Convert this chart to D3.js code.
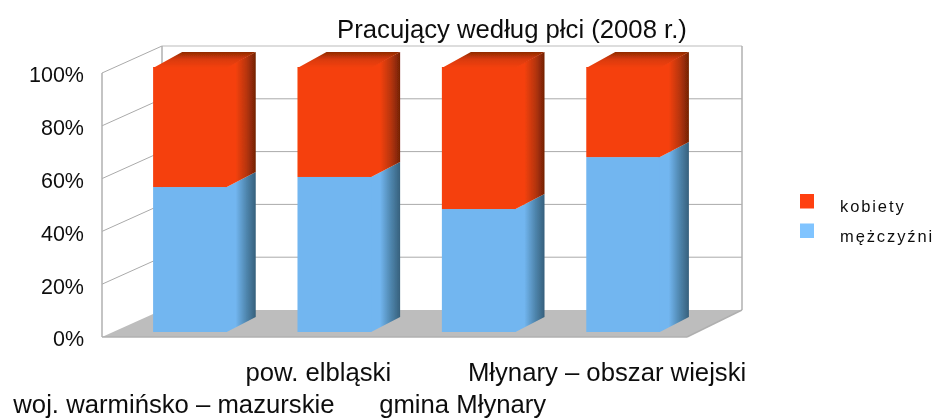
<!DOCTYPE html>
<html>
<head>
<meta charset="utf-8">
<script src="https://cdn.jsdelivr.net/npm/d3@7/dist/d3.min.js"></script>
<style>
  html, body { margin: 0; padding: 0; background: #fff; }
  svg { display: block; }
  text { font-family: "Liberation Sans", Arial, sans-serif; fill: #111; }
</style>
</head>
<body>
<div id="chart"></div>
<script>
const categories = ["woj. warmińsko – mazurskie", "pow. elbląski", "gmina Młynary", "Młynary – obszar wiejski"];
const mezczyzni = [54.7, 58.5, 46.4, 66];
const kobiety = [45.3, 41.5, 53.6, 34];
const yTicks = [0, 20, 40, 60, 80, 100];
const seriesNames = ["kobiety", "mężczyźni"];

const width = 938, height = 419;
const wall = { dx: 60, dy: -27 };   // glebokosc sciany wykresu
const depth = { dx: 29, dy: -15 };  // glebokosc slupka

const svg = d3.select("#chart").append("svg")
    .attr("width", width)
    .attr("height", height);

// skale
const y = d3.scaleLinear().domain([0, 100]).range([337, 73]);
const yBar = d3.scaleLinear().domain([0, 100]).range([332, 67]);
const x = d3.scaleBand().domain(categories).range([117, 696]).paddingInner(0.49).paddingOuter(0.25);
const xLabel = d3.scaleBand().domain(categories).range([101, 680]).paddingInner(0.49).paddingOuter(0.25);

// gradienty bocznych scian
const defs = svg.append("defs");
function sideGradient(id, from, mid, to) {
    const g = defs.append("linearGradient").attr("id", id);
    g.append("stop").attr("offset", "0%").attr("stop-color", from);
    g.append("stop").attr("offset", "35%").attr("stop-color", from);
    g.append("stop").attr("offset", "70%").attr("stop-color", mid);
    g.append("stop").attr("offset", "100%").attr("stop-color", to);
}
sideGradient("sideRed", "#f5410a", "#b83508", "#732206");
sideGradient("sideBlue", "#72b6f0", "#4f86ae", "#36607c");
defs.append("linearGradient").attr("id", "topRed")
    .attr("x1", "0%").attr("y1", "100%").attr("x2", "0%").attr("y2", "0%")
    .selectAll("stop").data([["0%", "#f5410a"], ["55%", "#d93a08"], ["100%", "#8f2a05"]]).enter().append("stop")
    .attr("offset", d => d[0]).attr("stop-color", d => d[1]);
defs.append("filter").attr("id", "soft")
    .append("feGaussianBlur").attr("stdDeviation", 0.6);
defs.append("filter").attr("id", "softText")
    .append("feGaussianBlur").attr("stdDeviation", 0.3);

const backGroup = svg.append("g").attr("filter", "url(#soft)");
const xRight = 687;   // prawy przedni rog podlogi
const xLeft = 102;

// podloga
backGroup.append("polygon")
    .attr("points", [
        [xLeft, y(0)],
        [xLeft + wall.dx, y(0) + wall.dy],
        [xRight + wall.dx - 5, y(0) + wall.dy],
        [xRight, y(0)]
    ].join(" "))
    .attr("fill", "#bdbdbd");

// linie siatki na tylnej scianie i lewej scianie
backGroup.selectAll("line.back")
    .data(yTicks.filter(d => d > 0))
    .enter().append("line")
    .attr("class", "back")
    .attr("x1", xLeft + wall.dx)
    .attr("x2", xRight + wall.dx - 5)
    .attr("y1", d => y(d) + wall.dy)
    .attr("y2", d => y(d) + wall.dy)
    .attr("stroke", d => d === 100 ? "#bbb" : "#aaa")
    .attr("stroke-width", 1);

backGroup.selectAll("line.side")
    .data(yTicks.filter(d => d > 0))
    .enter().append("line")
    .attr("class", "side")
    .attr("x1", xLeft)
    .attr("x2", xLeft + wall.dx)
    .attr("y1", d => y(d))
    .attr("y2", d => y(d) + wall.dy)
    .attr("stroke", "#aaa")
    .attr("stroke-width", 1);

// krawedzie scian
const edges = [
    [xLeft, y(100), xLeft, y(0)],
    [xLeft + wall.dx, y(100) + wall.dy, xLeft + wall.dx, y(0) + wall.dy],
    [xRight + wall.dx - 5, y(100) + wall.dy, xRight + wall.dx - 5, y(0) + wall.dy],
    [xLeft, y(0), xRight, y(0)],
    [xRight, y(0), xRight + wall.dx - 5, y(0) + wall.dy]
];
backGroup.selectAll("line.edge")
    .data(edges)
    .enter().append("line")
    .attr("class", "edge")
    .attr("x1", d => d[0]).attr("y1", d => d[1])
    .attr("x2", d => d[2]).attr("y2", d => d[3])
    .attr("stroke", "#b0b0b0")
    .attr("stroke-width", 1.5);

// slupki 3d
const bars = svg.append("g").attr("filter", "url(#soft)");

function drawSegment(cat, low, high, front, side) {
    const x0 = x(cat), x1 = x(cat) + x.bandwidth();
    const yLow = yBar(low), yHigh = yBar(high);
    // sciana boczna zachodzi pod przednia, zeby nie bylo jasnej szczeliny
    bars.append("polygon")
        .attr("points", [[x1 - 2, yLow], [x1, yLow], [x1 + depth.dx, yLow + depth.dy], [x1 + depth.dx, yHigh + depth.dy], [x1, yHigh], [x1 - 2, yHigh]].join(" "))
        .attr("fill", side);
    bars.append("rect")
        .attr("x", x0)
        .attr("y", yHigh)
        .attr("width", x.bandwidth())
        .attr("height", yLow - yHigh)
        .attr("fill", front);
}

categories.forEach((cat, i) => {
    drawSegment(cat, 0, mezczyzni[i], "#72b6f0", "url(#sideBlue)");
    drawSegment(cat, mezczyzni[i], mezczyzni[i] + kobiety[i], "#f5410a", "url(#sideRed)");
    const x0 = x(cat), x1 = x0 + x.bandwidth(), top = yBar(100);
    bars.append("polygon")
        .attr("points", [[x0, top + 1], [x0 + depth.dx, top + depth.dy], [x1 + depth.dx, top + depth.dy], [x1, top + 1]].join(" "))
        .attr("fill", "url(#topRed)");
});

// os Y
const yAxis = d3.axisLeft(y)
    .tickValues(yTicks)
    .tickFormat(d => d + "%")
    .tickSize(0)
    .tickPadding(0);
svg.append("g")
    .attr("transform", "translate(84,2)")
    .attr("filter", "url(#softText)")
    .call(yAxis)
    .call(g => g.select(".domain").remove())
    .selectAll("text")
    .style("font-family", "'Liberation Sans', Arial, sans-serif")
    .style("font-size", "21.5px");

// os X - etykiety na przemian w dwoch rzedach
const xAxis = d3.axisBottom(xLabel).tickSize(0);
svg.append("g")
    .attr("transform", "translate(0,362)")
    .attr("filter", "url(#softText)")
    .call(xAxis)
    .call(g => g.select(".domain").remove())
    .selectAll("text")
    .attr("y", (d, i) => i % 2 ? 19 : 51)
    .attr("dy", 0)
    .style("font-family", "'Liberation Sans', Arial, sans-serif")
    .style("font-size", "25.7px");

// tytul
svg.append("text")
    .attr("x", 512)
    .attr("y", 38)
    .attr("text-anchor", "middle")
    .attr("filter", "url(#softText)")
    .style("font-size", "25.7px")
    .text("Pracujący według płci (2008 r.)");

// legenda
const legend = svg.append("g").selectAll("g")
    .data(seriesNames)
    .enter().append("g");
legend.append("rect")
    .attr("x", 800)
    .attr("y", (d, i) => 194 + i * 29.5)
    .attr("width", 14)
    .attr("height", 14.5)
    .attr("fill", (d, i) => i === 0 ? "#ff4010" : "#80c4ff");
legend.append("text")
    .attr("x", 840)
    .attr("y", (d, i) => 212 + i * 29.5)
    .attr("filter", "url(#softText)")
    .style("font-size", "16.5px")
    .style("letter-spacing", "1.9px")
    .text(d => d);
</script>
</body>
</html>
